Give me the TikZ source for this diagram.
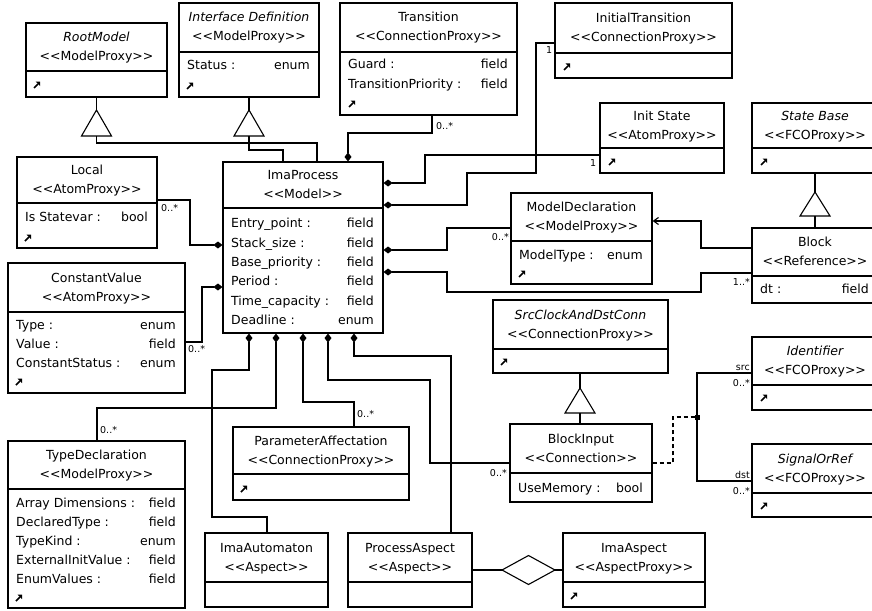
\documentclass[tikz,border=0pt]{standalone}
\usepackage{fontspec}
\setmainfont{DejaVu Sans}
\usetikzlibrary{arrows.meta}
\newcommand\st[1]{<\kern0pt<#1>\kern0pt>}
\newcounter{autonode}
\tikzset{
  clsbox/.style={draw, line width=1.1pt, rectangle, inner sep=0pt, fill=white},
  ttl/.style={font=\fontsize{12.5}{14}\selectfont, inner sep=0pt, anchor=base},
  attrl/.style={font=\fontsize{12.5}{14}\selectfont, inner sep=0pt, anchor=base west},
  attrr/.style={font=\fontsize{12.5}{14}\selectfont, inner sep=0pt, anchor=base east},
  mult/.style={font=\fontsize{9.5}{11}\selectfont, inner sep=0pt},
  conn/.style={line width=1.1pt},
  comp/.style={conn, -{Diamond[length=9pt,width=7pt]}},
  inhtri/.style={draw, line width=1.1pt, fill=white},
}
\newcommand\cls[8]{%
  \node[clsbox, minimum width={(#4-#2)*1pt}, minimum height={(#5-#3)*1pt}] (#1) at ({(#2+#4)/2},{(#3+#5)/2}) {};
  \draw[line width=1.1pt] (#2,#6) -- (#4,#6);
  \node[ttl] (#1-title) at ({(#2+#4)/2},{(#3+#6)/2-10+4.5}) {#7};
  \node[ttl] (#1-stereo) at ({(#2+#4)/2},{(#3+#6)/2+9+4.5}) {#8};
}
\newcommand\attr[5]{%
  \stepcounter{autonode}%
  \node[attrl] (attr\theautonode-n) at ({#1+8},{#3+4.5}) {#4};
  \node[attrr] (attr\theautonode-t) at ({#2-9},{#3+4.5}) {#5};
}
\newcommand\icn[2]{%
  \draw[line width=1.6pt] ({#1},{#2+3}) -- ({#1+4},{#2-1});
  \fill ({#1+1.5},{#2-3.5}) -- ({#1+6},{#2-3.5}) -- ({#1+6},{#2+1}) -- cycle;
}
\newcommand\inh[3]{%
  \path[inhtri] (#1,#2) -- ({#1-15},#3) -- ({#1+15},#3) -- cycle;
}
\begin{document}
\begin{tikzpicture}[x=1pt,y=-1pt]
\clip (0,0) rectangle (872,610);
\fill[white] (0,0) rectangle (872,610);

% ---------- classes ----------
\cls{rootmodel}{26}{23}{167}{97}{71}{\itshape RootModel}{\st{ModelProxy}}
\icn{34}{85}
\cls{interface}{179}{3}{319}{97}{52}{\itshape Interface Definition}{\st{ModelProxy}}
\attr{179}{319}{65}{Status :}{enum}
\icn{187}{86}
\cls{transition}{340}{3}{517}{115}{52}{Transition}{\st{ConnectionProxy}}
\attr{340}{517}{64}{Guard :}{field}
\attr{340}{517}{84}{TransitionPriority :}{field}
\icn{349}{104}
\cls{initt}{555}{3}{732}{78}{53}{InitialTransition}{\st{ConnectionProxy}}
\icn{564}{67}
\cls{initstate}{600}{103}{724}{173}{148}{Init State}{\st{AtomProxy}}
\icn{609}{162}
\cls{statebase}{752}{103}{878}{173}{148}{\itshape State Base}{\st{FCOProxy}}
\icn{761}{162}
\cls{local}{17}{157}{157}{248}{203}{Local}{\st{AtomProxy}}
\attr{17}{157}{217}{Is Statevar :}{bool}
\icn{25}{238}
\cls{imap}{223}{162}{383}{333}{208}{ImaProcess}{\st{Model}}
\attr{223}{383}{223}{Entry\_point :}{field}
\attr{223}{383}{243}{Stack\_size :}{field}
\attr{223}{383}{262}{Base\_priority :}{field}
\attr{223}{383}{281}{Period :}{field}
\attr{223}{383}{301}{Time\_capacity :}{field}
\attr{223}{383}{320}{Deadline :}{enum}
\cls{constval}{8}{263}{185}{393}{312}{ConstantValue}{\st{AtomProxy}}
\attr{8}{185}{325}{Type :}{enum}
\attr{8}{185}{344}{Value :}{field}
\attr{8}{185}{363}{ConstantStatus :}{enum}
\icn{16}{382}
\cls{modeldecl}{511}{193}{652}{284}{241}{ModelDeclaration}{\st{ModelProxy}}
\attr{511}{652}{255}{ModelType :}{enum}
\icn{519}{274}
\cls{block}{752}{228}{878}{303}{276}{Block}{\st{Reference}}
\attr{752}{878}{289}{dt :}{field}
\cls{srcclock}{493}{300}{668}{373}{349}{\itshape SrcClockAndDstConn}{\st{ConnectionProxy}}
\icn{501}{362}
\cls{identifier}{752}{337}{878}{410}{385}{\itshape Identifier}{\st{FCOProxy}}
\icn{761}{398}
\cls{signal}{752}{444}{878}{517}{493}{\itshape SignalOrRef}{\st{FCOProxy}}
\icn{761}{506}
\cls{blockinput}{510}{424}{652}{502}{473}{BlockInput}{\st{Connection}}
\attr{510}{652}{488}{UseMemory :}{bool}
\cls{typedecl}{8}{441}{185}{608}{489}{TypeDeclaration}{\st{ModelProxy}}
\attr{8}{185}{503}{Array Dimensions :}{field}
\attr{8}{185}{522}{DeclaredType :}{field}
\attr{8}{185}{541}{TypeKind :}{enum}
\attr{8}{185}{560}{ExternalInitValue :}{field}
\attr{8}{185}{579}{EnumValues :}{field}
\icn{16}{598}
\cls{paramaff}{233}{427}{409}{500}{474}{ParameterAffectation}{\st{ConnectionProxy}}
\icn{241}{489}
\cls{imaauto}{205}{533}{328}{607}{582}{ImaAutomaton}{\st{Aspect}}
\cls{procasp}{348}{533}{472}{607}{582}{ProcessAspect}{\st{Aspect}}
\cls{imaaspect}{563}{533}{705}{607}{582}{ImaAspect}{\st{AspectProxy}}
\icn{571}{596}

% ---------- inheritance ----------
\draw[conn] (rootmodel.south) -- (96.5,110);
\inh{96.5}{110}{136}
\draw[conn] (96.5,136) -- (96.5,143) -| (imap.north -| 317,0);
\draw[conn] (interface.south) -- (249,110);
\inh{249}{110}{136}
\draw[conn] (249,136) -- (249,150) -| (imap.north -| 283,0);
\draw[conn] (statebase.south -| 815,0) -- (815,192);
\inh{815}{192}{216}
\draw[conn] (815,216) -- (block.north -| 815,0);
\draw[conn] (srcclock.south -| 580,0) -- (580,388);
\inh{580}{388}{413}
\draw[conn] (580,413) -- (blockinput.north -| 580,0);

% ---------- compositions into ImaProcess ----------
\draw[comp] (transition.south -| 432,0) -- (432,133) -| (imap.north -| 348,0);
\node[mult, anchor=base west] (m1) at (436,129) {0..*};
\draw[comp] (initt.west |- 0,43) -- (536,43) |- (467,173) |- (imap.east |- 0,205);
\node[mult, anchor=base west] (m2) at (546,54) {1};
\draw[comp] (initstate.west |- 0,155) -- (425,155) |- (imap.east |- 0,183);
\node[mult, anchor=base west] (m3) at (590,166) {1};
\draw[comp] (modeldecl.west |- 0,228) -- (447,228) |- (imap.east |- 0,250);
\node[mult, anchor=base east] (m4) at (509,240) {0..*};
\draw[comp] (block.west |- 0,273) -- (701,273) |- (447,292) |- (imap.east |- 0,272);
\node[mult, anchor=base east] (m5) at (750,285) {1..*};
\draw[comp] (local.east |- 0,200) -- (190,200) |- (imap.west |- 0,245);
\node[mult, anchor=base west] (m6) at (161,211) {0..*};
\draw[comp] (constval.east |- 0,342) -- (202,342) |- (imap.west |- 0,287);
\node[mult, anchor=base west] (m7) at (188,352) {0..*};
\draw[comp] (imaauto.north -| 267,0) -- (267,517) -| (212,370) -| (imap.south -| 249,0);
\draw[comp] (typedecl.north -| 97,0) -- (97,408) -| (imap.south -| 276,0);
\node[mult, anchor=base west] (m8) at (100,433) {0..*};
\draw[comp] (paramaff.north -| 354,0) -- (354,402) -| (imap.south -| 303,0);
\node[mult, anchor=base west] (m9) at (357,417) {0..*};
\draw[comp] (blockinput.west |- 0,463) -- (430,463) |- (328,380) -- (imap.south -| 328,0);
\node[mult, anchor=base east] (m10) at (507,476) {0..*};
\draw[comp] (procasp.north -| 451,0) -- (451,356) -| (imap.south -| 354,0);

% ---------- reference ----------
\draw[conn, -{Straight Barb[length=5pt,width=7pt]}] (block.west |- 0,248) -- (701,248) |- (modeldecl.east |- 0,221);

% ---------- connection class ----------
\draw[conn, dash pattern=on 4pt off 3pt] (blockinput.east |- 0,463) -- (673,463) |- (697,417);
\draw[conn] (identifier.west |- 0,373) -- (697,373) -- (697,481) -- (signal.west |- 0,481);
\node[fill, minimum size=5pt, inner sep=0pt] (jn) at (697,417) {};
\node[mult, anchor=base east] (m11) at (750,370) {src};
\node[mult, anchor=base east] (m12) at (750,386) {0..*};
\node[mult, anchor=base east] (m13) at (750,478) {dst};
\node[mult, anchor=base east] (m14) at (750,494) {0..*};

% ---------- aggregation ----------
\draw[conn] (procasp.east |- 0,570) -- (502,570);
\path[inhtri] (502,570) -- (528.5,555.5) -- (555,570) -- (528.5,584.5) -- cycle;
\draw[conn] (555,570) -- (imaaspect.west |- 0,570);
\end{tikzpicture}
\end{document}
